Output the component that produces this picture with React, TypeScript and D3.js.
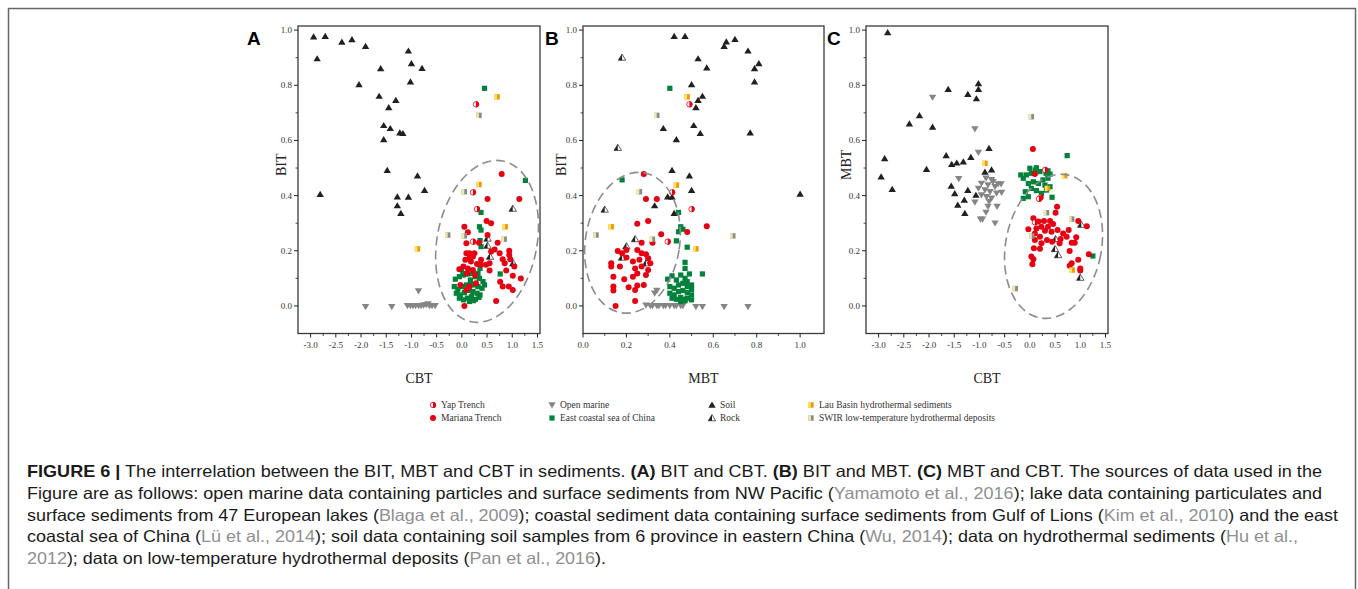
import * as d3 from 'd3';

type Pt = [number, number];

// ---------- tick values / labels ----------
const cbtTicks = [-3, -2.5, -2, -1.5, -1, -0.5, 0, 0.5, 1, 1.5];
const cbtLabels = ['-3.0', '-2.5', '-2.0', '-1.5', '-1.0', '-0.5', '0.0', '0.5', '1.0', '1.5'];
const cbtMinor = [-2.75, -2.25, -1.75, -1.25, -0.75, -0.25, 0.25, 0.75, 1.25];
const mbtTicks = [0, 0.2, 0.4, 0.6, 0.8, 1.0];
const mbtLabels = ['0.0', '0.2', '0.4', '0.6', '0.8', '1.0'];
const mbtMinor = [0.1, 0.3, 0.5, 0.7, 0.9];
const yTicks = [0, 0.2, 0.4, 0.6, 0.8, 1.0];
const yLabels = ['0.0', '0.2', '0.4', '0.6', '0.8', '1.0'];
const yMinor = [0.1, 0.3, 0.5, 0.7, 0.9];

// ---------- panel A : CBT vs BIT ----------
const soilA: Pt[] = [
  [-2.94, 0.976], [-2.71, 0.978], [-2.38, 0.957], [-2.18, 0.966], [-1.91, 0.942], [-2.87, 0.897],
  [-1.06, 0.925], [-1.0, 0.879], [-0.79, 0.862], [-1.61, 0.861], [-1.02, 0.813], [-2.04, 0.803],
  [-1.64, 0.761], [-1.31, 0.746], [-1.45, 0.72], [-1.55, 0.655], [-1.42, 0.644], [-1.55, 0.604],
  [-1.23, 0.628], [-1.17, 0.626], [-1.48, 0.492], [-0.88, 0.472], [-2.81, 0.405], [-0.74, 0.42],
  [-1.28, 0.396], [-1.06, 0.395], [-1.28, 0.364], [-1.21, 0.336],
];
const rockA: Pt[] = [[1.01, 0.353], [0.51, 0.245], [0.51, 0.219], [0.56, 0.179], [1.02, 0.155]];
const openMarineA: Pt[] = [
  [-1.91, -0.003], [-1.39, -0.003], [-0.86, 0.054], [-1.08, 0], [-1.02, 0], [-0.97, 0], [-0.92, 0],
  [-0.86, 0], [-0.81, 0], [-0.76, 0.002], [-0.71, 0.004], [-0.67, 0.007], [-0.64, 0], [-0.59, 0], [-0.53, 0],
];
const coastalA: Pt[] = [
  [0.45, 0.789], [1.26, 0.455], [0.38, 0.339], [0.35, 0.287], [0.38, 0.275], [0.36, 0.237],
  [0.38, 0.215], [0.36, 0.136], [0.76, 0.116],
  [-0.13, 0.097], [-0.05, 0.106], [0.03, 0.112], [0.12, 0.116], [0.2, 0.118], [0.27, 0.106],
  [0.35, 0.1], [0.42, 0.088], [0.45, 0.076], [-0.15, 0.07], [-0.08, 0.06], [0.01, 0.07],
  [0.09, 0.076], [0.17, 0.082], [0.25, 0.076], [0.32, 0.07], [0.4, 0.064], [-0.11, 0.046],
  [-0.03, 0.04], [0.05, 0.048], [0.14, 0.056], [0.22, 0.052], [0.3, 0.046], [0.36, 0.04],
  [-0.05, 0.028], [0.03, 0.022], [0.11, 0.028], [0.19, 0.034], [0.27, 0.024], [0.34, 0.031],
  [0.15, 0.016], [0.23, 0.019], [0.02, 0.118], [0.32, 0.118], [-0.01, 0.133], [0.17, 0.094],
];
const marianaA: Pt[] = [
  [0.79, 0.478], [1.14, 0.388], [0.51, 0.388], [0.49, 0.308], [0.58, 0.3], [0.05, 0.287],
  [0.12, 0.267], [0.51, 0.257], [0.34, 0.229], [0.09, 0.227], [0.71, 0.229], [0.65, 0.205],
  [0.58, 0.197], [0.75, 0.191], [0.94, 0.2], [0.94, 0.185], [0.81, 0.169], [0.96, 0.169],
  [0.85, 0.155], [1.04, 0.143], [0.55, 0.155], [0.48, 0.149], [0.38, 0.167], [0.38, 0.149],
  [0.25, 0.191], [0.15, 0.191], [0.09, 0.191], [0.22, 0.179], [0.3, 0.152], [0.15, 0.173],
  [0.07, 0.167], [0.03, 0.143], [0.12, 0.136], [0.22, 0.13], [0.1, 0.118], [0.26, 0.112],
  [0.55, 0.128], [0.88, 0.128], [1.01, 0.109], [1.17, 0.099], [0.76, 0.088], [0.93, 0.07],
  [0.81, 0.07], [1.01, 0.058], [-0.03, 0.076], [0.15, 0.07], [0.09, 0.058], [0.28, 0.082],
  [0.68, 0.018], [0.05, 0.0], [0.18, 0.161], [-0.05, 0.133],
];
const yapA: Pt[] = [[0.28, 0.731], [0.22, 0.412], [0.3, 0.351], [0.22, 0.233]];
const lauA: Pt[] = [[0.7, 0.758], [0.34, 0.44], [0.86, 0.287], [-0.88, 0.207]];
const swirA: Pt[] = [[0.34, 0.691], [0.05, 0.414], [-0.28, 0.257], [0.05, 0.254], [0.84, 0.242]];

// ---------- panel B : MBT vs BIT ----------
const soilB: Pt[] = [
  [0.42, 0.978], [0.47, 0.978], [0.7, 0.967], [0.66, 0.958], [0.65, 0.942], [0.76, 0.925],
  [0.53, 0.897], [0.81, 0.879], [0.79, 0.861], [0.57, 0.864], [0.79, 0.813], [0.5, 0.803],
  [0.55, 0.761], [0.53, 0.746], [0.52, 0.72], [0.51, 0.655], [0.37, 0.644], [0.54, 0.626],
  [0.77, 0.628], [0.43, 0.604], [0.41, 0.492], [0.49, 0.472], [0.5, 0.42], [1.0, 0.406],
  [0.39, 0.396], [0.41, 0.395], [0.33, 0.364], [0.42, 0.336],
];
const rockB: Pt[] = [[0.18, 0.901], [0.16, 0.574], [0.1, 0.35], [0.24, 0.243], [0.2, 0.217], [0.18, 0.176], [0.29, 0.155]];
const openMarineB: Pt[] = [
  [0.52, -0.003], [0.55, -0.003], [0.65, -0.003], [0.76, -0.003], [0.34, 0.056], [0.33, 0.046],
  [0.29, 0.002], [0.31, 0], [0.32, 0], [0.34, 0], [0.35, 0], [0.37, 0], [0.38, 0], [0.4, 0],
  [0.42, 0], [0.43, 0], [0.45, 0], [0.46, 0],
];
const coastalB: Pt[] = [
  [0.4, 0.789], [0.18, 0.457], [0.44, 0.339], [0.45, 0.287], [0.46, 0.278], [0.44, 0.269],
  [0.43, 0.236], [0.48, 0.213], [0.47, 0.158], [0.55, 0.116], [0.47, 0.136],
  [0.39, 0.097], [0.41, 0.109], [0.45, 0.112], [0.47, 0.1], [0.48, 0.088], [0.5, 0.076],
  [0.4, 0.07], [0.42, 0.064], [0.44, 0.076], [0.46, 0.082], [0.48, 0.07], [0.5, 0.06],
  [0.4, 0.046], [0.42, 0.04], [0.44, 0.052], [0.46, 0.056], [0.48, 0.048], [0.5, 0.04],
  [0.41, 0.028], [0.43, 0.024], [0.45, 0.031], [0.47, 0.024], [0.48, 0.028], [0.5, 0.022],
  [0.45, 0.016], [0.47, 0.019], [0.43, 0.094], [0.49, 0.116],
];
const marianaB: Pt[] = [
  [0.28, 0.478], [0.29, 0.388], [0.34, 0.388], [0.25, 0.298], [0.3, 0.308], [0.57, 0.289],
  [0.48, 0.268], [0.36, 0.26], [0.32, 0.229], [0.27, 0.229], [0.16, 0.199], [0.18, 0.191],
  [0.2, 0.176], [0.25, 0.203], [0.27, 0.191], [0.29, 0.187], [0.3, 0.173], [0.23, 0.161],
  [0.26, 0.167], [0.17, 0.143], [0.13, 0.155], [0.13, 0.143], [0.24, 0.136], [0.27, 0.143],
  [0.3, 0.13], [0.25, 0.118], [0.29, 0.112], [0.14, 0.106], [0.19, 0.097], [0.23, 0.106],
  [0.14, 0.07], [0.14, 0.056], [0.21, 0.068], [0.25, 0.074], [0.28, 0.076], [0.24, 0.058],
  [0.24, 0.018], [0.15, 0.0], [0.31, 0.155], [0.2, 0.203],
];
const yapB: Pt[] = [[0.49, 0.731], [0.41, 0.412], [0.5, 0.351], [0.39, 0.233]];
const lauB: Pt[] = [[0.48, 0.758], [0.43, 0.438], [0.13, 0.287], [0.52, 0.207]];
const swirB: Pt[] = [[0.34, 0.691], [0.26, 0.414], [0.06, 0.257], [0.32, 0.242], [0.69, 0.254]];

// ---------- panel C : CBT vs MBT ----------
const soilC: Pt[] = [
  [-2.82, 0.992], [-1.02, 0.807], [-1.02, 0.786], [-1.62, 0.786], [-1.23, 0.768], [-1.06, 0.752],
  [-2.19, 0.691], [-2.39, 0.661], [-1.93, 0.649], [-0.81, 0.572], [-2.88, 0.535], [-1.66, 0.546],
  [-1.55, 0.514], [-1.45, 0.519], [-1.32, 0.523], [-1.17, 0.539], [-2.05, 0.496], [-0.76, 0.494],
  [-0.89, 0.486], [-2.95, 0.469], [-2.73, 0.423], [-1.56, 0.435], [-1.23, 0.42], [-1.49, 0.408],
  [-1.07, 0.402], [-1.3, 0.384], [-1.43, 0.366], [-1.29, 0.336],
];
const rockC: Pt[] = [[1.02, 0.295], [0.51, 0.243], [0.5, 0.207], [0.56, 0.185], [1.0, 0.103]];
const openMarineC: Pt[] = [
  [-1.93, 0.756], [-1.09, 0.641], [-1.02, 0.556], [-1.41, 0.461], [-1.09, 0.376], [-0.98, 0.314],
  [-0.94, 0.314], [-0.69, 0.3], [-0.87, 0.339], [-0.83, 0.36], [-0.65, 0.36], [-0.56, 0.411],
  [-0.57, 0.442], [-0.87, 0.463], [-0.76, 0.457], [-0.96, 0.444], [-1.02, 0.426], [-0.83, 0.438],
  [-0.69, 0.432], [-0.89, 0.42], [-0.79, 0.414], [-0.66, 0.408], [-0.86, 0.396], [-0.76, 0.39],
  [-0.96, 0.402], [-0.81, 0.378], [-0.73, 0.45], [-0.63, 0.442],
];
const coastalC: Pt[] = [
  [0.74, 0.545], [1.25, 0.181], [0.44, 0.394], [-0.13, 0.39], [-0.03, 0.396], [-0.09, 0.414],
  [0.03, 0.426], [0.13, 0.418], [0.23, 0.408], [0.33, 0.42], [0.4, 0.432], [-0.03, 0.444],
  [0.07, 0.45], [0.17, 0.444], [0.26, 0.457], [0.36, 0.463], [-0.13, 0.463], [-0.07, 0.475],
  [0.03, 0.481], [0.11, 0.493], [0.2, 0.487], [0.32, 0.481], [0.4, 0.478], [0.0, 0.499],
  [0.13, 0.501], [0.36, 0.49], [-0.18, 0.475], [0.3, 0.438],
];
const marianaC: Pt[] = [
  [0.06, 0.569], [0.1, 0.478], [0.54, 0.36], [0.51, 0.338], [-0.03, 0.278], [0.07, 0.318],
  [0.17, 0.306], [0.28, 0.308], [0.4, 0.308], [0.46, 0.297], [0.36, 0.287], [0.23, 0.287],
  [0.13, 0.281], [0.3, 0.273], [0.43, 0.269], [0.55, 0.275], [0.66, 0.263], [0.77, 0.275],
  [0.73, 0.251], [0.61, 0.243], [0.96, 0.308], [1.13, 0.289], [0.1, 0.263], [0.2, 0.251],
  [0.34, 0.239], [0.44, 0.233], [0.1, 0.239], [0.23, 0.227], [0.08, 0.209], [0.2, 0.207],
  [0.92, 0.249], [0.89, 0.229], [0.83, 0.229], [0.79, 0.199], [0.03, 0.179], [0.07, 0.169],
  [0.05, 0.151], [0.83, 0.155], [0.96, 0.167], [0.79, 0.146], [1.0, 0.136], [1.0, 0.128],
  [1.17, 0.187], [0.59, 0.227],
];
const yapC: Pt[] = [[0.3, 0.493], [0.21, 0.393], [0.18, 0.388], [0.1, 0.303]];
const lauC: Pt[] = [[-0.89, 0.517], [0.69, 0.472], [0.35, 0.426], [0.84, 0.13]];
const swirC: Pt[] = [[0.03, 0.686], [0.33, 0.338], [0.83, 0.315], [0.04, 0.254], [-0.29, 0.063]];

// dashed ellipses: centre (data), half-axes (data, before rotation), tilt in degrees
const ellipseA = { cx: 0.5, cy: 0.234, ax: 0.99, ay: 0.297, rot: 11 };
const ellipseB = { cx: 0.228, cy: 0.229, ax: 0.217, ay: 0.257, rot: 9 };
const ellipseC = { cx: 0.47, cy: 0.216, ax: 0.95, ay: 0.264, rot: 11 };

const legendNames = [
  'Yap Trench', 'Mariana Trench', 'Open marine', 'East coastal sea of China',
  'Soil', 'Rock', 'Lau Basin hydrothermal sediments', 'SWIR low-temperature hydrothermal deposits',
];
const legendKinds = ['yap', 'mariana', 'open', 'coastal', 'soil', 'rock', 'lau', 'swir'];

const RED = '#e60012';
const GREEN = '#00823b';
const BLACK = '#231f20';
const GREY = '#858585';

function Marker({ kind, x, y }: { kind: string; x: number; y: number }) {
  const t = `translate(${x},${y})`;
  switch (kind) {
    case 'soil':
      return <path transform={t} d="M0,-3.4L3.7,2.8L-3.7,2.8Z" fill={BLACK} />;
    case 'open':
      return <path transform={t} d="M0,3.4L3.7,-2.8L-3.7,-2.8Z" fill={GREY} />;
    case 'rock':
      return (
        <g transform={t}>
          <path d="M0,-3.4L3.7,2.8L-3.7,2.8Z" fill="#fff" stroke={BLACK} strokeWidth={0.7} />
          <path d="M0,-3.4L0,2.8L-3.7,2.8Z" fill={BLACK} />
        </g>
      );
    case 'mariana':
      return <circle cx={x} cy={y} r={3} fill={RED} />;
    case 'yap':
      return (
        <g transform={t}>
          <circle r={2.7} fill="#fff" stroke={RED} strokeWidth={0.8} />
          <path d="M0,-3.1A3.1,3.1 0 0 1 0,3.1Z" fill={RED} />
        </g>
      );
    case 'coastal':
      return <rect x={x - 2.6} y={y - 2.6} width={5.2} height={5.2} fill={GREEN} />;
    case 'lau':
      return (
        <g transform={t}>
          <rect x={-2.7} y={-2.7} width={5.4} height={5.4} fill="#f39800" />
          <rect x={-2.7} y={-2.7} width={2.6} height={5.4} fill="#ffe36a" />
        </g>
      );
    case 'swir':
      return (
        <g transform={t}>
          <rect x={-2.7} y={-2.7} width={5.4} height={5.4} fill="#8a8a8a" />
          <rect x={-2.7} y={-2.7} width={2.6} height={5.4} fill="#f3eaa6" />
        </g>
      );
    default:
      return null;
  }
}

const Y0 = 26;
const Y1 = 333.5;
const serif = '"Liberation Serif", "Times New Roman", serif';
const sans = '"Liberation Sans", Arial, sans-serif';

interface PanelProps {
  letter: string;
  letterX: number;
  x0: number;
  x1: number;
  xDomain: [number, number];
  xTicks: number[];
  xLabels: string[];
  xMinor: number[];
  xTitle: string;
  yTitle: string;
  yTitleX: number;
  series: { kind: string; pts: Pt[] }[];
  ellipse: { cx: number; cy: number; ax: number; ay: number; rot: number };
}

function Panel(p: PanelProps) {
  const x = d3.scaleLinear().domain(p.xDomain).range([p.x0, p.x1]);
  const y = d3.scaleLinear().domain([-0.1, 1.015]).range([Y1, Y0]);
  const e = p.ellipse;
  const ecx = x(e.cx);
  const ecy = y(e.cy);
  const erx = Math.abs(x(e.cx + e.ax) - ecx);
  const ery = Math.abs(y(e.cy + e.ay) - ecy);
  return (
    <g>
      <text x={p.letterX} y={45} fontFamily={sans} fontWeight="bold" fontSize={19} fill="#000">
        {p.letter}
      </text>
      <rect x={p.x0} y={Y0} width={p.x1 - p.x0} height={Y1 - Y0} fill="#fff" stroke="#3a3a3a" strokeWidth={1.3} />
      {/* y axis */}
      {yTicks.map((v, i) => (
        <g key={'yt' + i}>
          <line x1={p.x0 - 4} x2={p.x0} y1={y(v)} y2={y(v)} stroke="#222" strokeWidth={1} />
          <text x={p.x0 - 6} y={y(v) + 3} textAnchor="end" fontFamily={serif} fontSize={9} fill="#333">
            {yLabels[i]}
          </text>
        </g>
      ))}
      {yMinor.map((v, i) => (
        <line key={'ym' + i} x1={p.x0 - 2.5} x2={p.x0} y1={y(v)} y2={y(v)} stroke="#222" strokeWidth={0.8} />
      ))}
      {/* x axis */}
      {p.xTicks.map((v, i) => (
        <g key={'xt' + i}>
          <line x1={x(v)} x2={x(v)} y1={Y1} y2={Y1 + 4} stroke="#222" strokeWidth={1} />
          <text x={x(v)} y={348} textAnchor="middle" fontFamily={serif} fontSize={9} fill="#333">
            {p.xLabels[i]}
          </text>
        </g>
      ))}
      {p.xMinor.map((v, i) => (
        <line key={'xm' + i} x1={x(v)} x2={x(v)} y1={Y1} y2={Y1 + 2.5} stroke="#222" strokeWidth={0.8} />
      ))}
      <text x={(p.x0 + p.x1) / 2} y={383} textAnchor="middle" fontFamily={serif} fontSize={14} fill="#222">
        {p.xTitle}
      </text>
      <text
        transform={`translate(${p.yTitleX},${(Y0 + Y1) / 2 - 15}) rotate(-90)`}
        textAnchor="middle"
        fontFamily={serif}
        fontSize={14}
        fill="#222"
      >
        {p.yTitle}
      </text>
      {/* points */}
      {p.series.map((s, si) => (
        <g key={'s' + si}>
          {s.pts.map((d, i) => (
            <Marker key={i} kind={s.kind} x={x(d[0])} y={y(d[1])} />
          ))}
        </g>
      ))}
      <ellipse
        cx={0}
        cy={0}
        rx={erx}
        ry={ery}
        transform={`translate(${ecx},${ecy}) rotate(${e.rot})`}
        fill="none"
        stroke="#8c8c8c"
        strokeWidth={1.6}
        strokeDasharray="9 5"
      />
    </g>
  );
}

const citeFill = '#8f8f8f';

export default function App() {
  const seriesOf = (o: Pt[], s: Pt[], r: Pt[], c: Pt[], m: Pt[], yp: Pt[], l: Pt[], w: Pt[]) => [
    { kind: 'open', pts: o },
    { kind: 'soil', pts: s },
    { kind: 'rock', pts: r },
    { kind: 'coastal', pts: c },
    { kind: 'mariana', pts: m },
    { kind: 'yap', pts: yp },
    { kind: 'lau', pts: l },
    { kind: 'swir', pts: w },
  ];
  const legendCols = [433, 552, 712, 811];
  const legendRows = [405, 418];
  const capProps = { fontFamily: sans, fontSize: 16.5, fill: '#1a1a1a', lengthAdjust: 'spacingAndGlyphs' as const };
  return (
    <svg width={1358} height={589} style={{ position: 'absolute', left: 0, top: 0, background: '#fff' }}>
      <rect x={8.5} y={8.5} width={1347} height={640} fill="#fff" stroke="#666" strokeWidth={1.5} />
      <Panel
        letter="A" letterX={247} x0={298} x1={540}
        xDomain={[-3.25, 1.55]} xTicks={cbtTicks} xLabels={cbtLabels} xMinor={cbtMinor}
        xTitle="CBT" yTitle="BIT" yTitleX={286}
        series={seriesOf(openMarineA, soilA, rockA, coastalA, marianaA, yapA, lauA, swirA)}
        ellipse={ellipseA}
      />
      <Panel
        letter="B" letterX={545} x0={583} x1={824}
        xDomain={[0, 1.11]} xTicks={mbtTicks} xLabels={mbtLabels} xMinor={mbtMinor}
        xTitle="MBT" yTitle="BIT" yTitleX={566}
        series={seriesOf(openMarineB, soilB, rockB, coastalB, marianaB, yapB, lauB, swirB)}
        ellipse={ellipseB}
      />
      <Panel
        letter="C" letterX={827} x0={866} x1={1108}
        xDomain={[-3.25, 1.55]} xTicks={cbtTicks} xLabels={cbtLabels} xMinor={cbtMinor}
        xTitle="CBT" yTitle="MBT" yTitleX={851}
        series={seriesOf(openMarineC, soilC, rockC, coastalC, marianaC, yapC, lauC, swirC)}
        ellipse={ellipseC}
      />
      {/* legend */}
      {legendNames.map((name, i) => {
        const cx = legendCols[Math.floor(i / 2)];
        const cy = legendRows[i % 2];
        return (
          <g key={'lg' + i}>
            <Marker kind={legendKinds[i]} x={cx} y={cy} />
            <text x={cx + 8} y={cy + 3.2} fontFamily={serif} fontSize={9.5} fill="#333">
              {name}
            </text>
          </g>
        );
      })}
      {/* caption */}
      <text x={27} y={477} textLength={1295} {...capProps}>
        <tspan fontWeight="bold">FIGURE 6 |</tspan> The interrelation between the BIT, MBT and CBT in sediments.{' '}
        <tspan fontWeight="bold">(A)</tspan> BIT and CBT. <tspan fontWeight="bold">(B)</tspan> BIT and MBT.{' '}
        <tspan fontWeight="bold">(C)</tspan> MBT and CBT. The sources of data used in the
      </text>
      <text x={27} y={499} textLength={1295} {...capProps}>
        Figure are as follows: open marine data containing particles and surface sediments from NW Pacific (
        <tspan fill={citeFill}>Yamamoto et al., 2016</tspan>); lake data containing particulates and
      </text>
      <text x={27} y={520.5} textLength={1311} {...capProps}>
        surface sediments from 47 European lakes (<tspan fill={citeFill}>Blaga et al., 2009</tspan>); coastal sediment
        data containing surface sediments from Gulf of Lions (<tspan fill={citeFill}>Kim et al., 2010</tspan>) and the
        east
      </text>
      <text x={27} y={542} textLength={1271} {...capProps}>
        coastal sea of China (<tspan fill={citeFill}>Lü et al., 2014</tspan>); soil data containing soil samples from 6
        province in eastern China (<tspan fill={citeFill}>Wu, 2014</tspan>); data on hydrothermal sediments (
        <tspan fill={citeFill}>Hu et al.,</tspan>
      </text>
      <text x={27} y={563.5} textLength={579} {...capProps}>
        <tspan fill={citeFill}>2012</tspan>); data on low-temperature hydrothermal deposits (
        <tspan fill={citeFill}>Pan et al., 2016</tspan>).
      </text>
    </svg>
  );
}
